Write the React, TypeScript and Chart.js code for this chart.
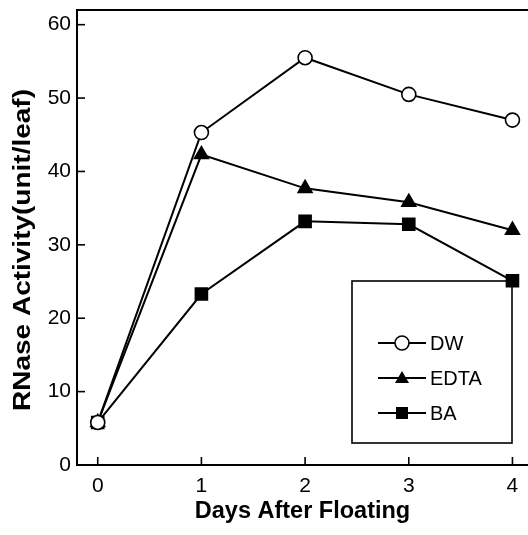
import React, { useEffect, useRef } from "react";
import { Chart, registerables } from "chart.js";

Chart.register(...registerables);

const days = [0, 1, 2, 3, 4];
const dwValues = [5.8, 45.3, 55.5, 50.5, 47.0];
const edtaValues = [5.8, 42.3, 37.7, 35.8, 32.0];
const baValues = [5.8, 23.3, 33.2, 32.8, 25.1];
const seriesNames = ["DW", "EDTA", "BA"];
const yTicks = [0, 10, 20, 30, 40, 50, 60];
const xTicks = [0, 1, 2, 3, 4];
const yTitle = "RNase Activity(unit/leaf)";
const xTitle = "Days After Floating";

const FONT = "'Liberation Sans', Arial, Helvetica, sans-serif";

function drawMarker(ctx: CanvasRenderingContext2D, style: string, x: number, y: number) {
  ctx.save();
  ctx.lineWidth = 1.6;
  ctx.strokeStyle = "#000";
  ctx.beginPath();
  if (style === "circle") {
    ctx.fillStyle = "#fff";
    ctx.arc(x, y, 7, 0, Math.PI * 2);
    ctx.fill();
    ctx.stroke();
  } else if (style === "triangle") {
    ctx.fillStyle = "#000";
    ctx.moveTo(x, y - 7);
    ctx.lineTo(x + 7, y + 5);
    ctx.lineTo(x - 7, y + 5);
    ctx.closePath();
    ctx.fill();
  } else {
    ctx.fillStyle = "#000";
    ctx.rect(x - 6, y - 6, 12, 12);
    ctx.fill();
  }
  ctx.restore();
}

const framePlugin = {
  id: "frame",
  afterDraw(chart: any) {
    const { ctx, chartArea } = chart;
    const xs = chart.scales.x;
    const ys = chart.scales.y;
    ctx.save();
    ctx.strokeStyle = "#000";
    ctx.lineWidth = 2;
    // top border line
    ctx.beginPath();
    ctx.moveTo(chartArea.left - 1, chartArea.top);
    ctx.lineTo(chart.width, chartArea.top);
    ctx.stroke();
    // inward ticks
    ctx.lineWidth = 1.6;
    ys.ticks.forEach((t: any) => {
      const py = ys.getPixelForValue(t.value);
      ctx.beginPath();
      ctx.moveTo(chartArea.left, py);
      ctx.lineTo(chartArea.left + 8, py);
      ctx.stroke();
    });
    xs.ticks.forEach((t: any) => {
      const px = xs.getPixelForValue(t.value);
      ctx.beginPath();
      ctx.moveTo(px, chartArea.bottom);
      ctx.lineTo(px, chartArea.bottom - 8);
      ctx.stroke();
    });
    // y title (stretched along its length like the original)
    ctx.save();
    ctx.fillStyle = "#000";
    ctx.font = `bold 23px ${FONT}`;
    ctx.textAlign = "center";
    ctx.textBaseline = "middle";
    const w = ctx.measureText(yTitle).width;
    const target = 322;
    ctx.translate(24, 250);
    ctx.rotate(-Math.PI / 2);
    ctx.scale(target / w, 1);
    ctx.fillText(yTitle, 0, 0);
    ctx.restore();
    // legend box
    const bx = 352, by = 281, bw = 160, bh = 162;
    ctx.lineWidth = 1.6;
    ctx.strokeRect(bx, by, bw, bh);
    ctx.font = `20px ${FONT}`;
    ctx.fillStyle = "#000";
    ctx.textBaseline = "middle";
    ctx.textAlign = "left";
    chart.data.datasets.forEach((ds: any, i: number) => {
      const ly = by + 62 + i * 35;
      ctx.lineWidth = 2;
      ctx.beginPath();
      ctx.moveTo(bx + 26, ly);
      ctx.lineTo(bx + 74, ly);
      ctx.stroke();
      drawMarker(ctx, ds.pointStyle, bx + 50, ly);
      ctx.fillText(ds.label, bx + 78, ly + 1);
    });
    ctx.restore();
  },
};

export default function App() {
  const ref = useRef<HTMLCanvasElement>(null);
  useEffect(() => {
    document.body.style.margin = "0";
    const mk = (vals: number[]) => days.map((d, i) => ({ x: d, y: vals[i] }));
    const common = {
      borderColor: "#000",
      borderWidth: 2,
      pointBorderColor: "#000",
      pointBorderWidth: 1.6,
      showLine: true,
      tension: 0,
    };
    const chart = new Chart(ref.current!, {
      type: "scatter",
      data: {
        datasets: [
          { ...common, label: seriesNames[0], data: mk(dwValues), pointStyle: "circle", pointRadius: 7, pointBackgroundColor: "#fff" },
          { ...common, label: seriesNames[1], data: mk(edtaValues), pointStyle: "triangle", pointRadius: 8, pointBackgroundColor: "#000" },
          { ...common, label: seriesNames[2], data: mk(baValues), pointStyle: "rect", pointRadius: 8.5, pointBackgroundColor: "#000" },
        ],
      } as any,
      options: {
        animation: false,
        responsive: false,
        events: [],
        layout: { autoPadding: false, padding: { left: 0, top: 10, right: 0, bottom: 0 } },
        plugins: { legend: { display: false }, tooltip: { enabled: false } },
        scales: {
          x: {
            type: "linear",
            min: -0.2,
            max: 4.15,
            afterBuildTicks: (s: any) => { s.ticks = xTicks.map((v) => ({ value: v })); },
            afterFit: (s: any) => { s.height = 70; s.paddingLeft = 0; s.paddingRight = 0; },
            grid: { display: false, drawTicks: false },
            border: { display: true, color: "#000", width: 2 },
            ticks: { color: "#000", padding: 9, font: { family: FONT, size: 21 } },
            title: { display: true, text: xTitle, color: "#000", padding: { top: 0, bottom: 9 }, font: { family: FONT, size: 23.5, weight: "bold" } },
          },
          y: {
            type: "linear",
            min: 0,
            max: 62,
            afterBuildTicks: (s: any) => { s.ticks = yTicks.map((v) => ({ value: v })); },
            afterFit: (s: any) => { s.width = 77; s.paddingTop = 0; s.paddingBottom = 0; },
            grid: { display: false, drawTicks: false },
            border: { display: true, color: "#000", width: 2 },
            ticks: { color: "#000", padding: 6, font: { family: FONT, size: 21 } },
            title: { display: false },
          },
        },
      } as any,
      plugins: [framePlugin],
    });
    return () => chart.destroy();
  }, []);
  return (
    <div style={{ position: "absolute", left: 0, top: 0, width: 528, height: 535, background: "#fff" }}>
      <canvas ref={ref} width={528} height={535} style={{ display: "block", width: 528, height: 535 }} />
    </div>
  );
}
